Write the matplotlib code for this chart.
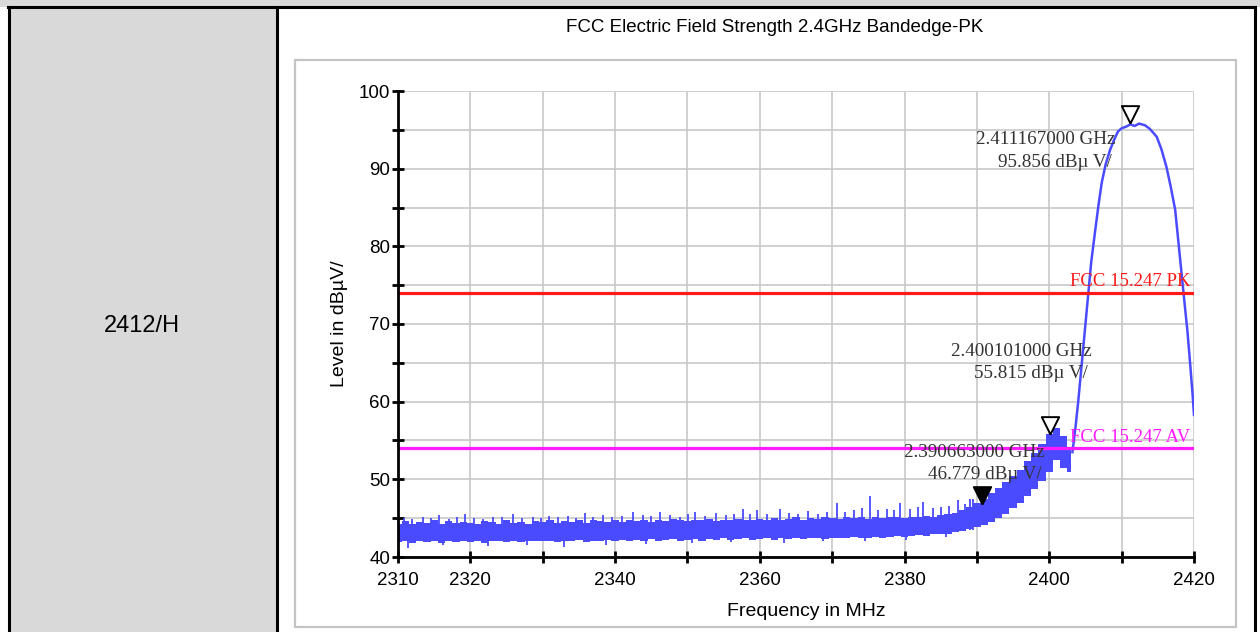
import numpy as np
import matplotlib
matplotlib.use("Agg")
import matplotlib.pyplot as plt
from matplotlib.patches import Rectangle
from matplotlib.lines import Line2D

# =========================
# Data
# =========================

title = "FCC Electric Field Strength 2.4GHz Bandedge-PK"
row_label = "2412/H"

# noise band, 1 MHz steps 2310..2403
band_freq = np.arange(2310, 2404)
band_low = [
    41.9, 42.0, 41.8, 42.0, 41.9, 42.1, 41.8, 42.0, 41.9, 42.0,
    41.9, 42.1, 41.8, 42.0, 42.0, 41.9, 42.1, 41.9, 42.0, 42.1,
    42.0, 42.1, 41.9, 42.1, 42.0, 42.2, 41.9, 42.1, 42.0, 42.2,
    42.1, 42.2, 42.0, 42.2, 42.1, 42.3, 42.1, 42.2, 42.3, 42.1,
    42.2, 42.3, 42.1, 42.3, 42.2, 42.4, 42.2, 42.3, 42.4, 42.2,
    42.3, 42.4, 42.2, 42.4, 42.3, 42.5, 42.3, 42.4, 42.5, 42.3,
    42.4, 42.5, 42.4, 42.6, 42.5, 42.4, 42.6, 42.5, 42.6, 42.7,
    42.6, 42.7, 42.8, 42.7, 42.9, 42.9, 43.0, 43.2, 43.4, 43.6,
    43.8, 44.1, 44.5, 45.0, 45.6, 46.3, 47.0, 47.8, 48.8, 49.8,
    51.0, 52.5, 51.5, 51.0,
]
band_high = [
    44.3, 44.6, 44.2, 44.5, 44.4, 44.7, 44.3, 44.6, 44.4, 44.5,
    44.4, 44.2, 44.6, 44.5, 44.3, 44.7, 44.4, 44.5, 44.3, 44.6,
    44.5, 44.7, 44.4, 44.6, 44.5, 44.8, 44.4, 44.7, 44.6, 44.5,
    44.7, 44.5, 44.8, 44.6, 44.7, 44.5, 44.8, 44.6, 44.9, 44.7,
    44.6, 44.8, 44.7, 44.9, 44.6, 44.8, 44.7, 44.9, 44.8, 44.7,
    44.9, 44.7, 45.0, 44.8, 44.9, 45.1, 44.8, 45.0, 44.9, 45.1,
    45.0, 44.9, 45.2, 45.0, 45.1, 44.9, 45.2, 45.0, 45.1, 45.2,
    45.0, 45.2, 45.1, 45.3, 45.2, 45.4, 45.5, 45.7, 46.0, 46.4,
    47.0, 47.5, 48.2, 48.9, 49.6, 50.4, 51.2, 52.3, 53.4, 54.6,
    55.8, 56.6, 55.6, 54.0,
]

# single spikes sticking out of the noise band
spike_freq = [
    2310.8, 2311.9, 2313.4, 2314.6, 2315.6, 2317.0, 2318.2, 2319.3, 2320.5, 2321.8,
    2323.1, 2324.4, 2325.9, 2327.2, 2328.7, 2329.8, 2330.8, 2332.1, 2333.5, 2334.6,
    2335.8, 2337.0, 2338.3, 2339.6, 2340.9, 2342.5, 2343.8, 2345.0, 2346.2, 2347.6,
    2349.0, 2350.1, 2351.0, 2352.4, 2354.0, 2355.3, 2356.5, 2357.7, 2358.6, 2359.6,
    2361.0, 2362.8, 2364.0, 2365.3, 2366.7, 2368.0, 2369.3, 2370.6, 2371.8, 2373.0,
    2374.1, 2375.2, 2376.4, 2377.6, 2378.5, 2379.4, 2380.7, 2381.8, 2382.6, 2383.9,
    2385.0, 2386.2, 2387.4, 2388.3, 2389.0, 2389.5,
]
spike_top = [
    45.0, 44.9, 45.1, 45.0, 45.4, 44.9, 45.2, 45.6, 45.0, 44.9,
    45.1, 45.2, 45.6, 45.0, 45.2, 45.0, 45.3, 45.1, 45.3, 45.0,
    45.7, 45.2, 45.4, 45.1, 45.3, 45.8, 45.4, 45.3, 45.8, 45.4,
    45.2, 45.5, 45.8, 45.3, 45.7, 45.4, 45.5, 46.2, 45.5, 46.0,
    45.6, 46.2, 45.7, 45.5, 45.9, 45.6, 45.8, 46.9, 45.8, 46.0,
    46.3, 47.8, 46.1, 46.2, 46.0, 46.9, 46.2, 46.4, 47.1, 46.3,
    46.5, 46.6, 47.3, 46.8, 47.5, 47.5,
]
dip_freq = [2311.4, 2316.2, 2322.5, 2327.8, 2333.0, 2338.8, 2344.3,
            2350.6, 2356.0, 2363.4, 2368.8, 2374.6, 2380.2, 2385.7]
dip_bottom = [41.2, 41.5, 41.4, 41.6, 41.3, 41.6, 41.7,
              41.8, 41.9, 41.8, 42.0, 42.1, 42.2, 42.6]

# carrier
main_freq = [
    2403.2, 2403.6, 2404.0, 2404.4, 2404.8, 2405.1, 2405.4, 2405.8, 2406.3, 2406.8,
    2407.25, 2407.8, 2408.4, 2409.0, 2409.5, 2410.0, 2410.6, 2411.2, 2411.8, 2412.4,
    2413.2, 2413.8, 2414.3, 2414.85, 2415.5, 2416.2, 2416.8, 2417.4, 2418.1, 2418.65,
    2419.1, 2419.5, 2419.8, 2420.0,
]
main_level = [
    53.5, 56.5, 60.0, 64.0, 68.0, 71.0, 74.0, 78.0, 81.7, 85.3,
    88.2, 90.6, 92.4, 93.8, 94.8, 95.2, 95.4, 95.7, 95.5, 95.8,
    95.6, 95.2, 94.7, 94.1, 92.5, 90.2, 87.6, 84.7, 78.2, 73.1,
    69.0, 64.5, 61.0, 58.3,
]

# limits
limit_names = ["FCC 15.247 PK", "FCC 15.247 AV"]
limit_values = [74, 54]
limit_colors = ["#ff1a1a", "#ff1aff"]

# markers
marker_freq = [2411.167, 2400.101, 2390.663]
marker_level = [95.856, 55.815, 46.779]
marker_filled = [False, False, True]
marker_text_pos = [(2409.1, 93.7), (2405.9, 66.5), (2399.4, 53.5)]

# axes ticks
xticks = np.arange(2310, 2421, 10)
xtick_labels = ["2310", "2320", "", "2340", "", "2360", "", "2380", "", "2400", "", "2420"]
yticks = np.arange(40, 101, 10)
yticks_minor = np.arange(45, 100, 10)

# =========================
# Figure / table background
# =========================

W, H = 1260, 632
fig = plt.figure(figsize=(W / 100, H / 100), dpi=100)
fig.patch.set_facecolor("white")


def px_rect(x0, y0, x1, y1, **kw):
    r = Rectangle((x0 / W, 1 - y1 / H), (x1 - x0) / W, (y1 - y0) / H,
                  transform=fig.transFigure, zorder=-5, **kw)
    fig.add_artist(r)


def px_line(x0, y0, x1, y1, **kw):
    fig.add_artist(Line2D([x0 / W, x1 / W], [1 - y0 / H, 1 - y1 / H],
                          transform=fig.transFigure, zorder=-4, **kw))


px_rect(0, 0, W, 7, facecolor="#d9d9d9", edgecolor="none")
px_rect(9, 7, 277, H, facecolor="#d9d9d9", edgecolor="none")
px_line(8, 7, 1255, 7, color="black", lw=2.2)
px_line(8.5, 7, 8.5, H, color="black", lw=2.2)
px_line(277, 7, 277, H, color="black", lw=2.2)
px_line(1254.5, 7, 1254.5, H, color="black", lw=2.2)

# chart frame
px_rect(295, 60, 1236, 627, facecolor="white", edgecolor="#c4c4c4", lw=1.6)

fig.text(142 / W, 1 - 326 / H, row_label, ha="center", va="center",
         fontsize=17, family="Liberation Sans")
fig.text(775 / W, 1 - 27 / H, title, ha="center", va="center",
         fontsize=13.5, family="Liberation Sans")

# =========================
# Plot
# =========================

ax = fig.add_axes([398 / W, 1 - 557 / H, (1194 - 398) / W, (557 - 91) / H])
ax.set_facecolor("none")
ax.set_zorder(5)

blue = "#4a4aff"
ax.fill_between(band_freq, band_low, band_high, step="mid", color=blue, lw=0, zorder=3)
ax.vlines(spike_freq, 43.5, spike_top, color=blue, lw=1.3, zorder=3)
ax.vlines(dip_freq, dip_bottom, 43.0, color=blue, lw=1.3, zorder=3)
ax.plot(main_freq, main_level, color=blue, lw=1.8, zorder=3)

for name, val, col in zip(limit_names, limit_values, limit_colors):
    ax.axhline(val, color=col, lw=2.3, zorder=4)
    ax.text(2419.5, val + 0.35, name, color=col, ha="right", va="bottom",
            fontsize=13.5, family="Liberation Serif", zorder=5)

# triangle with its tip on the marker point
tri = [(0, 0), (-0.5, 1), (0.5, 1), (0, 0)]
for f, lv, filled, (tx, ty) in zip(marker_freq, marker_level, marker_filled, marker_text_pos):
    ax.plot(f, lv, marker=tri, ms=25, mec="black", mew=1.4,
            mfc="black" if filled else "white", zorder=6, clip_on=False)
    ax.text(tx, ty, f"{f / 1000:.9f} GHz", ha="right", va="center",
            fontsize=13.8, family="Liberation Serif", color="#333333", zorder=5)
    ax.text(tx - 0.5, ty - 2.85, f"{lv:.3f} dBµ V/", ha="right", va="center",
            fontsize=13.8, family="Liberation Serif", color="#333333", zorder=5)

ax.set_xlim(2310, 2420)
ax.set_ylim(40, 100)

ax.set_xticks(xticks)
ax.set_xticklabels(xtick_labels)
ax.set_yticks(yticks)
ax.set_yticks(yticks_minor, minor=True)

ax.grid(True, which="both", color="#c8c8c8", lw=1.2, zorder=1)
ax.set_axisbelow(True)

for s in ["top", "right"]:
    ax.spines[s].set_visible(False)
for s in ["left", "bottom"]:
    ax.spines[s].set_linewidth(2)
    ax.spines[s].set_zorder(7)

ax.tick_params(which="both", direction="inout", length=9, width=2, color="black")
ax.tick_params(axis="x", pad=6)
ax.tick_params(axis="y", pad=1)
for lab in ax.get_xticklabels() + ax.get_yticklabels():
    lab.set_family("Liberation Sans")
    lab.set_fontsize(13.5)

ax.set_xlabel("Frequency in MHz", fontsize=14, family="Liberation Sans")
ax.xaxis.set_label_coords(0.5126, -0.098)
ax.set_ylabel("Level in dBµV/", fontsize=14, family="Liberation Sans")
ax.yaxis.set_label_coords(-0.063, 0.5)

fig.savefig("out.png", dpi=100)
